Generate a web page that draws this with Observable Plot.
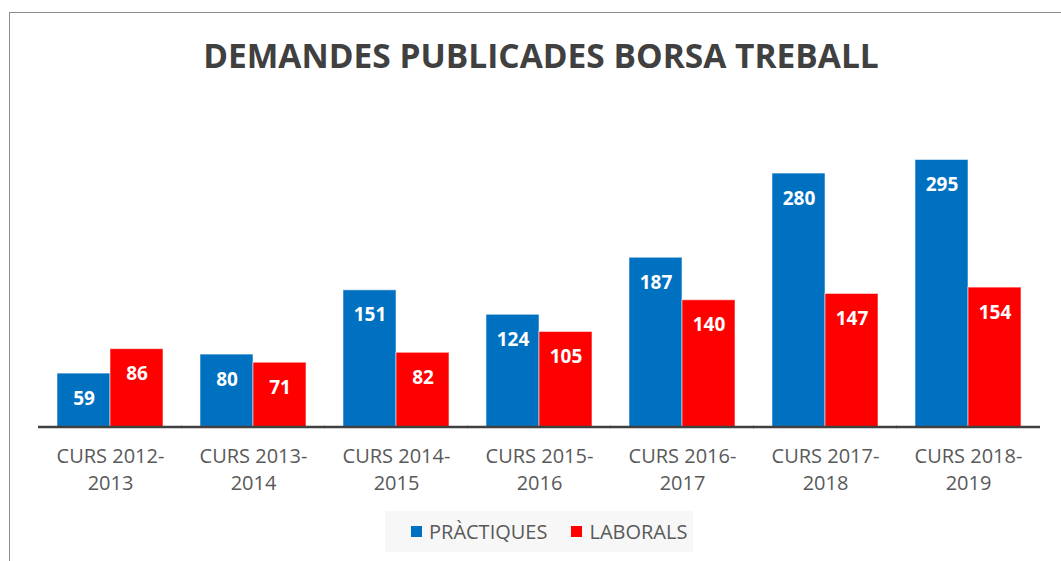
<!DOCTYPE html>
<html>
<head>
<meta charset="utf-8">
<script src="https://cdn.jsdelivr.net/npm/d3@7"></script>
<script src="https://cdn.jsdelivr.net/npm/@observablehq/plot@0.6"></script>
<style>
  html, body { margin: 0; padding: 0; background: #fff; }
  #wrap { position: relative; width: 1061px; height: 561px; overflow: hidden; font-family: "Open Sans", sans-serif; }
  #border { position: absolute; left: 9px; top: 12px; width: 1100px; height: 600px; border-top: 1px solid #8c8c8c; border-left: 1px solid #8c8c8c; }
  #title { position: absolute; left: 21px; width: 1040px; top: 34px; line-height: 42px; text-align: center; font-size: 33.5px; font-weight: 700; color: #404040; }
  #chart { position: absolute; left: 0; top: 100px; }
  #legend { position: absolute; left: 385px; top: 511px; width: 308px; height: 41px; background: #f7f7f7; display: flex; align-items: center; justify-content: flex-start; padding-left: 26px; box-sizing: border-box; font-size: 20px; color: #595959; }
  .item { display: inline-flex; align-items: center; }
  .sw { display: inline-block; width: 11px; height: 11px; margin-right: 7px; }
</style>
</head>
<body>
<div id="wrap">
  <div id="border"></div>
  <div id="title">DEMANDES PUBLICADES BORSA TREBALL</div>
  <div id="chart"></div>
  <div id="legend"></div>
</div>
<script>
const categories = ["CURS 2012-2013", "CURS 2013-2014", "CURS 2014-2015", "CURS 2015-2016", "CURS 2016-2017", "CURS 2017-2018", "CURS 2018-2019"];
const practiques = [59, 80, 151, 124, 187, 280, 295];
const laborals = [86, 71, 82, 105, 140, 147, 154];
const seriesNames = ["PRÀCTIQUES", "LABORALS"];
const seriesColors = ["#0070C0", "#FF0000"];

const data = categories.flatMap((c, i) => [
  {cat: c, series: seriesNames[0], value: practiques[i]},
  {cat: c, series: seriesNames[1], value: laborals[i]}
]);

const plot = Plot.plot({
  width: 1061,
  height: 400,
  marginLeft: 35,
  marginRight: 19,
  marginTop: 27.8,
  marginBottom: 73.5,
  fx: {domain: categories, paddingInner: 0.26, paddingOuter: 0.13, label: null},
  x: {domain: seriesNames, padding: 0, axis: null},
  y: {domain: [0, 330], axis: null},
  color: {domain: seriesNames, range: seriesColors},
  style: {fontFamily: "Open Sans, sans-serif", background: "transparent"},
  marks: [
    Plot.barY(data, {fx: "cat", x: "series", y: "value", fill: "series", stroke: "white", strokeOpacity: 0.55, strokeWidth: 1}),
    Plot.text(data, {fx: "cat", x: "series", y: "value", text: d => String(d.value), dy: 25, fill: "white", fontWeight: "bold", fontSize: 19}),
    Plot.ruleY([0], {stroke: "#404040", strokeWidth: 2.5, insetLeft: -19, insetRight: -19}),
    Plot.axisFx({anchor: "bottom", tickSize: 0, tickPadding: 16, fontSize: 20, lineHeight: 1.38, fill: "#595959", label: null, tickFormat: d => d.replace("-", "-\n")})
  ]
});
document.getElementById("chart").appendChild(plot);

const legend = document.getElementById("legend");
seriesNames.forEach((s, i) => {
  const item = document.createElement("span");
  item.className = "item";
  item.style.marginRight = i === 0 ? "24px" : "0";
  const sw = document.createElement("span");
  sw.className = "sw";
  sw.style.background = plot.scale("color").apply(s);
  item.appendChild(sw);
  item.appendChild(document.createTextNode(s));
  legend.appendChild(item);
});
</script>
</body>
</html>
